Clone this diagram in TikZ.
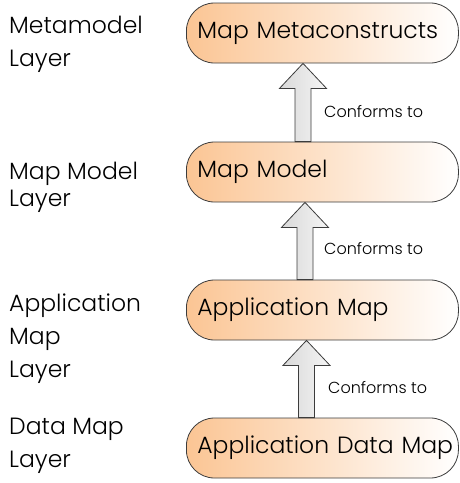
\documentclass[tikz,border=0pt]{standalone}
\usepackage{fontspec}
\setmainfont{Poppins}[UprightFont=* Light]
\usetikzlibrary{calc}
\definecolor{boxorange}{HTML}{FBC594}
\definecolor{edgegray}{HTML}{3C3C3C}
\tikzset{
  layerbox/.style={draw=edgegray, line width=0.8pt, rounded corners=28pt,
    left color=boxorange, right color=white, minimum width=272pt,
    minimum height=60pt, text width=250pt, align=left, inner xsep=11pt,
    anchor=west, font=\fontsize{23.5}{28}\selectfont},
  layertext/.style={anchor=base west, align=left, inner sep=0pt,
    font=\fontsize{23.5}{33}\selectfont},
  conformtext/.style={anchor=west, inner sep=0pt, font=\fontsize{16}{20}\selectfont},
  arrowbody/.style={draw=edgegray, line width=0.8pt, left color=gray!30, right color=gray!8}
}
% hollow block arrow: #1 = x of its axis, #2 = lower node, #3 = upper node
\newcommand\blockarrow[3]{%
  \path[arrowbody] let \p1=(#2.north), \p2=(#3.south) in
    ({#1pt-8pt},\y1) -- ({#1pt-8pt},{\y2-25pt}) -- ({#1pt-23.5pt},{\y2-25pt})
    -- ({#1pt},\y2) -- ({#1pt+23.5pt},{\y2-25pt}) -- ({#1pt+8pt},{\y2-25pt})
    -- ({#1pt+8pt},\y1) -- cycle;}
\begin{document}
\begin{tikzpicture}[x=1pt,y=-1pt]
\useasboundingbox (0,0) rectangle (460,483);
% layer boxes
\node[layerbox] (meta) at (186,33) {\mbox{Map Metaconstructs}};
\node[layerbox] (model) at (186,172) {\mbox{Map Model}};
\node[layerbox] (appmap) at (186,310) {\mbox{Application Map}};
\node[layerbox] (datamap) at (186,448) {\mbox{Application Data Map}};
% conformance arrows
\blockarrow{303}{model}{meta}
\blockarrow{305}{appmap}{model}
\blockarrow{306.5}{datamap}{appmap}
\node[conformtext] (c1) at (324,112) {Conforms to};
\node[conformtext] (c2) at (324,249) {Conforms to};
\node[conformtext] (c3) at (328,388) {Conforms to};
% layer names (anchored at the baseline of the last line)
\node[layertext] (l1) at (9,66) {Metamodel\\Layer};
\node[layertext] (l2) at (9,206) {Map Model\\[-6pt]Layer};
\node[layertext] (l3) at (9,377) {Application\\Map\\Layer};
\node[layertext] (l4) at (9,467) {Data Map\\Layer};
\end{tikzpicture}
\end{document}
